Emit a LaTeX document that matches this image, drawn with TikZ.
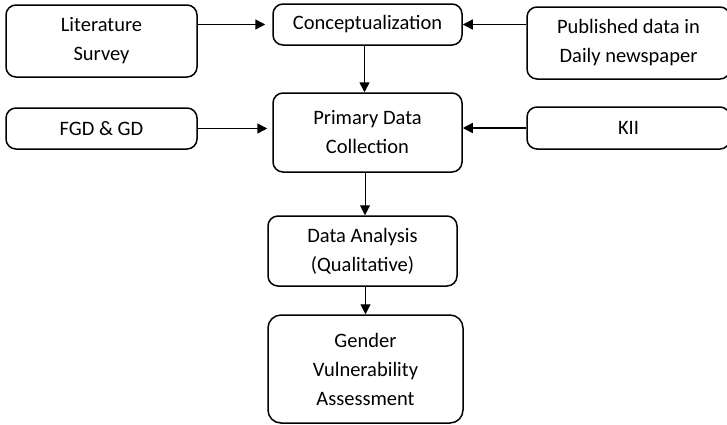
\documentclass[tikz,border=0pt]{standalone}
\usepackage{fontspec}
\setmainfont{Carlito}
\usetikzlibrary{arrows.meta}

\begin{document}
\begin{tikzpicture}[x=1pt, y=-1pt,
    box/.style={draw, line width=1.5pt, rounded corners=10pt, inner sep=0pt, align=center,
      font=\fontsize{20.5}{29}\selectfont},
    arr/.style={line width=1.5pt, -{Triangle[length=10pt,width=10pt]}},
    thinarr/.style={line width=1pt, -{Triangle[length=10pt,width=10pt]}}]
  \useasboundingbox (0,0) rectangle (727,424);
  \node[box, minimum width=191pt, minimum height=72pt] (lit) at (101.5,41) {Literature\\Survey};
  \node[box, minimum width=189pt, minimum height=41pt] (concept) at (367.5,24.5) {Conceptualization};
  \node[box, minimum width=203pt, minimum height=72pt] (pub) at (628.5,43) {Published data in\\Daily newspaper};
  \node[box, minimum width=191pt, minimum height=41pt] (fgd) at (101.5,128.5) {FGD \& GD};
  \node[box, minimum width=189pt, minimum height=79pt] (prim) at (367.5,132.5) {Primary Data\\Collection};
  \node[box, minimum width=203pt, minimum height=42pt] (kii) at (628.5,128) {KII};
  \node[box, minimum width=189pt, minimum height=70pt] (da) at (362.5,251) {Data Analysis\\(Qualitative)};
  \node[box, rounded corners=13pt, minimum width=195pt, minimum height=108pt] (gva) at (365.5,369) {Gender\\Vulnerability\\Assessment};
  \draw[arr, shorten >=7pt] (lit.east |- concept.west) -- (concept.west);
  \draw[arr] (pub.west |- concept.east) -- (concept.east);
  \draw[arr] ([xshift=-3pt]concept.south) -- ([xshift=-3pt]prim.north);
  \draw[arr, shorten >=5pt] (fgd.east) -- (fgd.east -| prim.west);
  \draw[arr] (kii.west) -- (kii.west -| prim.east);
  \draw[thinarr] ([xshift=-2.5pt]prim.south) -- ([xshift=-2.5pt]prim.south |- da.north);
  \draw[thinarr] (gva.north |- da.south) -- (gva.north);
\end{tikzpicture}
\end{document}
